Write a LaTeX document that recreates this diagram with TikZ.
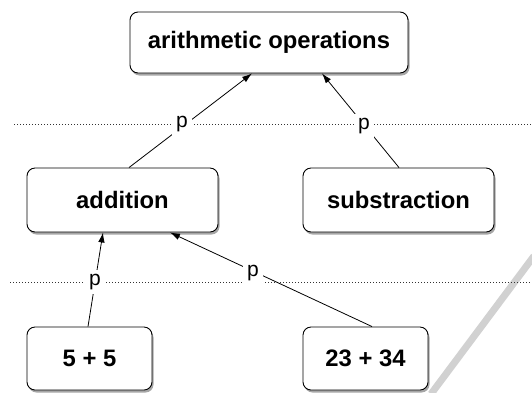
\documentclass[tikz,border=0pt]{standalone}
\usepackage{fontspec}
\setmainfont{Liberation Sans}
\usetikzlibrary{shadows,arrows.meta}
\begin{document}
\begin{tikzpicture}[x=1pt,y=-1pt,
  box/.style={draw=black, line width=0.9pt, fill=white, rounded corners=8pt,
    font=\fontsize{23.8}{28}\selectfont\bfseries, inner sep=0pt,
    drop shadow={shadow xshift=1.5pt, shadow yshift=-2.5pt, fill=black, opacity=0.35}},
  lbl/.style={fill=white, font=\fontsize{21}{24}\selectfont, inner sep=4pt},
  link/.style={draw=black, line width=0.8pt, -{Latex[length=10pt,width=6.5pt]}},
  sep/.style={line width=0.7pt, dash pattern=on 1pt off 2pt, black!80}]
\useasboundingbox (0,0) rectangle (532,392);
% page curl shadow
\draw[line width=7pt, black!18] (431,394) -- (534,256);
% separators
\coordinate (s1a) at (14,124); \coordinate (s1b) at (532,124);
\coordinate (s2a) at (10,282); \coordinate (s2b) at (532,282);
\draw[sep] (s1a) -- (s1b);
\draw[sep] (s2a) -- (s2b);
% nodes
\node[box, minimum width=278pt, minimum height=61pt] (ops) at (269,42.5) {arithmetic operations};
\node[box, minimum width=191pt, minimum height=64pt] (add) at (122.5,200) {addition};
\node[box, minimum width=191pt, minimum height=64pt] (sub) at (398.5,200) {substraction};
\node[box, minimum width=125pt, minimum height=63pt] (a1) at (89.5,358.5) {5 + 5};
\node[box, minimum width=125pt, minimum height=63pt] (a2) at (365.5,358.5) {23 + 34};
% links
\draw[link] ([xshift=6.5pt]add.north) -- ([xshift=-17pt]ops.south);
\draw[link] ([xshift=0.5pt]sub.north) -- ([xshift=53pt]ops.south);
\draw[link] ([xshift=-1.5pt]a1.north) -- ([xshift=-19.5pt]add.south);
\draw[link] ([xshift=6.5pt]a2.north) -- ([xshift=47.5pt]add.south);
% labels
\node[lbl] (p1) at (182,124) {p};
\node[lbl] (p2) at (364,126) {p};
\node[lbl] (p3) at (95,282) {p};
\node[lbl] (p4) at (253,273) {p};
\end{tikzpicture}
\end{document}
